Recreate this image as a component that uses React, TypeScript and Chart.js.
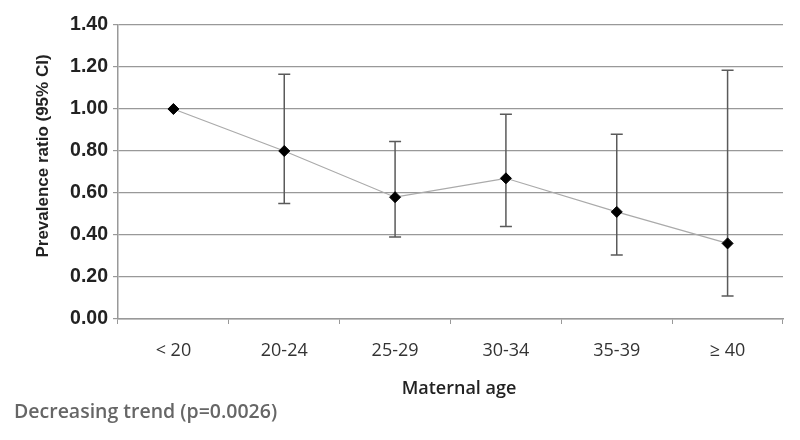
import React, { useEffect, useRef } from "react";
import { Chart, registerables } from "chart.js";

Chart.register(...registerables);

const categories = ["< 20", "20-24", "25-29", "30-34", "35-39", "≥ 40"];
const ratios = [1.0, 0.8, 0.58, 0.67, 0.51, 0.36];
const lowerCI = [1.0, 0.55, 0.39, 0.44, 0.305, 0.11];
const upperCI = [1.0, 1.165, 0.845, 0.975, 0.88, 1.185];
const yTicks = [0, 0.2, 0.4, 0.6, 0.8, 1.0, 1.2, 1.4];
const yTitle = "Prevalence ratio (95% CI)";
const xTitle = "Maternal age";
const footnote = "Decreasing trend (p=0.0026)";

const errorBarPlugin = {
  id: "errorBars",
  beforeDatasetsDraw(chart: any) {
    const { ctx, scales } = chart;
    const x = scales.x;
    const y = scales.y;
    ctx.save();
    ctx.strokeStyle = "#5a5a5a";
    ctx.lineWidth = 1.5;
    for (let i = 0; i < categories.length; i++) {
      if (lowerCI[i] === upperCI[i]) continue;
      const px = x.getPixelForValue(i);
      const yl = y.getPixelForValue(lowerCI[i]);
      const yu = y.getPixelForValue(upperCI[i]);
      ctx.beginPath();
      ctx.moveTo(px, yl);
      ctx.lineTo(px, yu);
      ctx.moveTo(px - 6, yl);
      ctx.lineTo(px + 6, yl);
      ctx.moveTo(px - 6, yu);
      ctx.lineTo(px + 6, yu);
      ctx.stroke();
    }
    ctx.restore();
  },
};

const textPlugin = {
  id: "texts",
  afterDraw(chart: any) {
    const { ctx } = chart;
    ctx.save();
    ctx.translate(43, 156);
    ctx.rotate(-Math.PI / 2);
    ctx.font = "bold 17px 'Liberation Sans', Arial, sans-serif";
    ctx.fillStyle = "#222";
    ctx.textAlign = "center";
    ctx.textBaseline = "middle";
    ctx.fillText(yTitle, 0, 0);
    ctx.restore();

    ctx.save();
    ctx.font = "600 18px 'Open Sans', sans-serif";
    ctx.fillStyle = "#222";
    ctx.textAlign = "center";
    ctx.textBaseline = "middle";
    ctx.fillText(xTitle, 459, 389);
    ctx.font = "600 19.5px 'Open Sans', sans-serif";
    ctx.fillStyle = "#666";
    ctx.textAlign = "left";
    ctx.fillText(footnote, 14, 412);
    ctx.restore();
  },
};

export default function App() {
  const ref = useRef<HTMLCanvasElement>(null);
  useEffect(() => {
    document.body.style.margin = "0";
    const chart = new Chart(ref.current as HTMLCanvasElement, {
      type: "line",
      data: {
        labels: categories,
        datasets: [
          {
            data: ratios,
            borderColor: "#aaaaaa",
            borderWidth: 1.2,
            pointStyle: "rectRot",
            pointRadius: 5.5,
            pointBackgroundColor: "#000",
            pointBorderColor: "#000",
            pointBorderWidth: 1,
            tension: 0,
          },
        ],
      },
      options: {
        animation: false,
        responsive: false,
        layout: { padding: { left: 0, right: 17, top: 25, bottom: 0 } },
        plugins: { legend: { display: false }, tooltip: { enabled: false } },
        scales: {
          x: {
            offset: true,
            grid: {
              offset: true,
              drawOnChartArea: false,
              drawTicks: true,
              tickLength: 5,
              color: "#999",
            },
            border: { color: "#999", width: 1.5 },
            ticks: {
              padding: 16,
              color: "#333",
              font: { family: "'Open Sans', sans-serif", size: 18 },
            },
            afterFit(scale: any) {
              scale.height = 121;
            },
          },
          y: {
            min: 0,
            max: 1.4,
            afterBuildTicks(scale: any) {
              scale.ticks = yTicks.map((v) => ({ value: v }));
            },
            grid: { color: "#999", lineWidth: 1.2, tickLength: 5 },
            border: { color: "#999", width: 1.5 },
            ticks: {
              padding: 5,
              color: "#222",
              font: { family: "'Liberation Sans', Arial, sans-serif", size: 19.5, weight: "bold" },
              callback: (v: any) => Number(v).toFixed(2),
            },
            afterFit(scale: any) {
              scale.width = 118;
            },
          },
        },
      },
      plugins: [errorBarPlugin, textPlugin],
    });
    return () => chart.destroy();
  }, []);
  return (
    <div style={{ position: "fixed", left: 0, top: 0, width: 800, height: 440, background: "#fff" }}>
      <canvas ref={ref} width={800} height={440} />
    </div>
  );
}
